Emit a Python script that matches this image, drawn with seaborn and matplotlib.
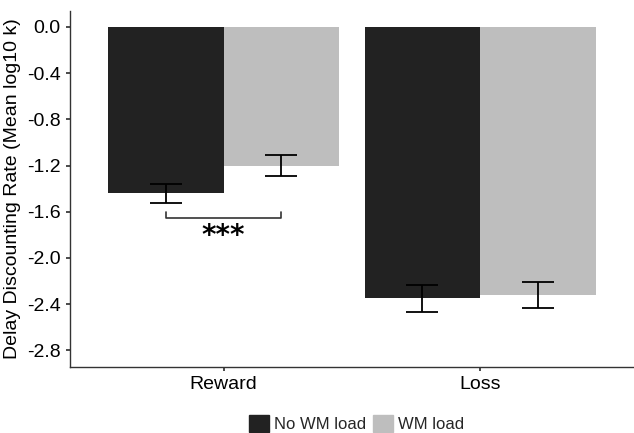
import numpy as np
import pandas as pd
import matplotlib
matplotlib.use("Agg")
import matplotlib.pyplot as plt
import seaborn as sns

# data
conditions = ["Reward", "Loss"]
loads = ["No WM load", "WM load"]
means_no_wm = [-1.44, -2.35]
means_wm = [-1.20, -2.32]
se_no_wm = [0.08, 0.115]
se_wm = [0.09, 0.115]
yticks = [0.0, -0.4, -0.8, -1.2, -1.6, -2.0, -2.4, -2.8]

sns.set_theme(style="ticks")
plt.rcParams["font.family"] = ["Liberation Sans", "DejaVu Sans"]
plt.rcParams["axes.unicode_minus"] = False

df = pd.DataFrame({
    "condition": conditions * 2,
    "load": [loads[0]] * 2 + [loads[1]] * 2,
    "rate": means_no_wm + means_wm,
    "se": se_no_wm + se_wm,
})

fig = plt.figure(figsize=(6.34, 4.33), dpi=100)
ax = fig.add_axes([0.110, 0.152, 0.890, 0.823])

palette = {"No WM load": "#222222", "WM load": "#bebebe"}
sns.barplot(data=df, x="condition", y="rate", hue="load", order=conditions,
            hue_order=loads, palette=palette, errorbar=None, width=0.9,
            saturation=1, linewidth=0, ax=ax)

# error bars at the centre of each bar
centers = {}
for container, load in zip(ax.containers, loads):
    sub = df[df["load"] == load].set_index("condition").loc[conditions]
    xs = [p.get_x() + p.get_width() / 2 for p in container]
    centers[load] = xs
    ax.errorbar(xs, sub["rate"], yerr=sub["se"], fmt="none", ecolor="black",
                elinewidth=1.3, capsize=11.5, capthick=1.3, zorder=3)

# significance bracket for Reward
x1, x2 = centers[loads[0]][0], centers[loads[1]][0]
ax.plot([x1, x1, x2, x2], [-1.60, -1.655, -1.655, -1.60], color="#333333", lw=1.2)
ax.text((x1 + x2) / 2, -1.69, "***", ha="center", va="top", fontsize=20,
        family="DejaVu Sans", fontweight="bold", color="black")

ax.set_xlim(-0.6, 1.6)
ax.set_ylim(-2.946, 0.14)
ax.set_yticks(yticks)
ax.set_yticklabels([f"{t:.1f}" for t in yticks])
ax.set_xlabel("")
ax.set_ylabel("Delay Discounting Rate (Mean log10 k)", fontsize=14, color="black",
              labelpad=4)
ax.tick_params(axis="both", labelsize=14, colors="#333333", labelcolor="black", length=3)
for side in ["top", "right"]:
    ax.spines[side].set_visible(False)
for side in ["left", "bottom"]:
    ax.spines[side].set_color("#333333")
    ax.spines[side].set_linewidth(1.0)

ax.legend_.remove()
handles = [plt.Rectangle((0, 0), 1, 1, color=palette[l]) for l in loads]
fig.legend(handles, loads, loc="lower center", bbox_to_anchor=(0.563, -0.032), ncol=2,
           frameon=False, fontsize=12, handlelength=1.2, handleheight=1.2,
           handletextpad=0.3, columnspacing=0.4)

fig.savefig("out.png", dpi=100)
